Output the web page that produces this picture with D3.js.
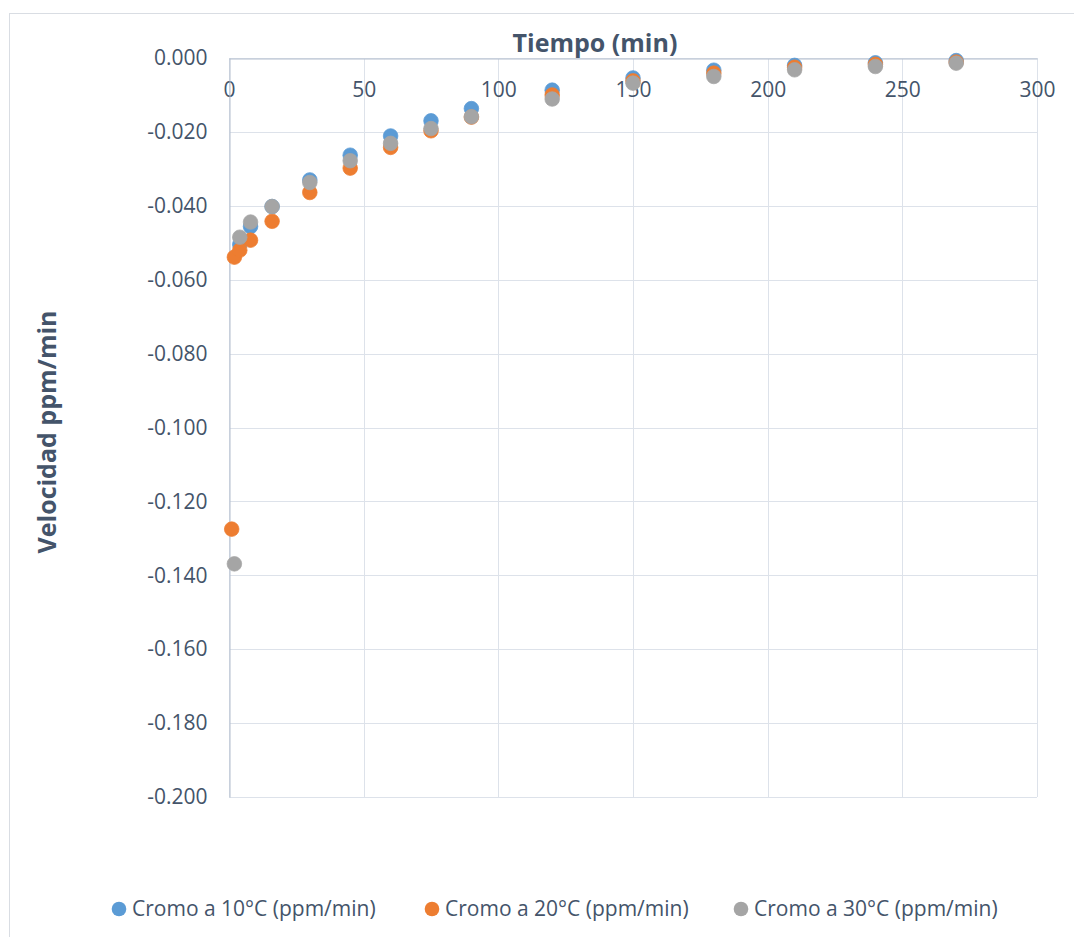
<!DOCTYPE html>
<html>
<head>
<meta charset="utf-8">
<script src="https://cdn.jsdelivr.net/npm/d3@7"></script>
<style>
  html, body { margin: 0; padding: 0; background: #ffffff; }
  svg { display: block; font-family: "Open Sans", "Noto Sans", sans-serif; }
</style>
</head>
<body>
<svg id="chart" width="1074" height="937"></svg>
<script>
// ---- data ----
const seriesNames = ["Cromo a 10°C (ppm/min)", "Cromo a 20°C (ppm/min)", "Cromo a 30°C (ppm/min)"];
const time10 = [4, 8, 16, 30, 45, 60, 75, 90, 120, 150, 180, 210, 240, 270];
const vel10  = [-0.0505, -0.0456, -0.0402, -0.0330, -0.0263, -0.0211, -0.0170, -0.0137, -0.0087, -0.0054, -0.0033, -0.0020, -0.0013, -0.0007];
const time20 = [1, 2, 4, 8, 16, 30, 45, 60, 75, 90, 120, 150, 180, 210, 240, 270];
const vel20  = [-0.1275, -0.0539, -0.0520, -0.0493, -0.0442, -0.0364, -0.0298, -0.0242, -0.0197, -0.0160, -0.0100, -0.0062, -0.0041, -0.0025, -0.0017, -0.0011];
const time30 = [2, 4, 8, 16, 30, 45, 60, 75, 90, 120, 150, 180, 210, 240, 270];
const vel30  = [-0.1369, -0.0485, -0.0444, -0.0402, -0.0337, -0.0278, -0.0231, -0.0191, -0.0159, -0.0111, -0.0068, -0.0050, -0.0032, -0.0023, -0.0014];
const xTicks = [0, 50, 100, 150, 200, 250, 300];
const yTicks = [0, -0.02, -0.04, -0.06, -0.08, -0.10, -0.12, -0.14, -0.16, -0.18, -0.20];
const xTitle = "Tiempo (min)";
const yTitle = "Velocidad ppm/min";

const colors = ["#5B9BD5", "#ED7D31", "#A5A5A5"];
const textColor = "#44546A";

const svg = d3.select("#chart");
svg.append("rect").attr("width", 1074).attr("height", 937).attr("fill", "#fff");
// outer chart border
svg.append("rect").attr("x", 9.5).attr("y", 13.5).attr("width", 1100).attr("height", 1000)
  .attr("fill", "none").attr("stroke", "#D9DDE3").attr("stroke-width", 1);

const x = d3.scaleLinear().domain([0, 300]).range([229, 1037]);
const y = d3.scaleLinear().domain([-0.2, 0]).range([797, 58]);

// gridlines
const grid = svg.append("g");
grid.selectAll("line.v").data(xTicks).join("line")
  .attr("x1", d => Math.round(x(d)) + 0.5).attr("x2", d => Math.round(x(d)) + 0.5)
  .attr("y1", y(0)).attr("y2", y(-0.2))
  .attr("stroke", "#DDE2EA").attr("stroke-width", 1);
grid.selectAll("line.h").data(yTicks).join("line")
  .attr("x1", x(0)).attr("x2", x(300))
  .attr("y1", d => Math.round(y(d)) + 0.5).attr("y2", d => Math.round(y(d)) + 0.5)
  .attr("stroke", "#DDE2EA").attr("stroke-width", 1);

// axes
const xAxis = d3.axisBottom(x).tickValues(xTicks).tickSize(0).tickPadding(0).tickFormat(d3.format("d"));
const gx = svg.append("g").attr("transform", `translate(0,${Math.round(y(0)) + 0.5})`).call(xAxis);
gx.select(".domain").attr("stroke", "#B3BECE");
gx.selectAll("text").attr("dy", null).attr("y", 38).attr("fill", textColor)
  .attr("font-size", 21).attr("font-family", "Open Sans");

const yAxis = d3.axisLeft(y).tickValues(yTicks).tickSize(0).tickPadding(22).tickFormat(d3.format(".3f"));
const gy = svg.append("g").attr("transform", `translate(${Math.round(x(0)) + 0.5},0)`).call(yAxis);
gy.select(".domain").attr("stroke", "#B3BECE");
gy.selectAll("text").attr("fill", textColor).attr("font-size", 21).attr("font-family", "Open Sans")
  .text(d => d3.format(".3f")(d).replace("−", "-"));

// axis titles
svg.append("text").attr("x", 595).attr("y", 52).attr("text-anchor", "middle")
  .attr("font-weight", "bold").attr("font-size", 25).attr("fill", textColor).text(xTitle);
svg.append("text").attr("transform", "translate(56,432) rotate(-90)").attr("text-anchor", "middle")
  .attr("font-weight", "bold").attr("font-size", 25).attr("fill", textColor).text(yTitle);

// points
const series = [
  { t: time10, v: vel10, c: colors[0] },
  { t: time20, v: vel20, c: colors[1] },
  { t: time30, v: vel30, c: colors[2] }
];
series.forEach(s => {
  svg.append("g").selectAll("circle")
    .data(s.t.map((t, i) => [t, s.v[i]]))
    .join("circle")
    .attr("cx", d => x(d[0])).attr("cy", d => y(d[1])).attr("r", 7.3)
    .attr("fill", s.c).attr("stroke", s.c).attr("stroke-width", 0.75);
});

// legend
const legX = [119, 432, 741];
const leg = svg.append("g");
seriesNames.forEach((n, i) => {
  leg.append("circle").attr("cx", legX[i]).attr("cy", 909).attr("r", 7.3).attr("fill", colors[i]);
  leg.append("text").attr("x", legX[i] + 13).attr("y", 916).attr("font-size", 21)
    .attr("fill", textColor).text(n);
});
</script>
</body>
</html>
